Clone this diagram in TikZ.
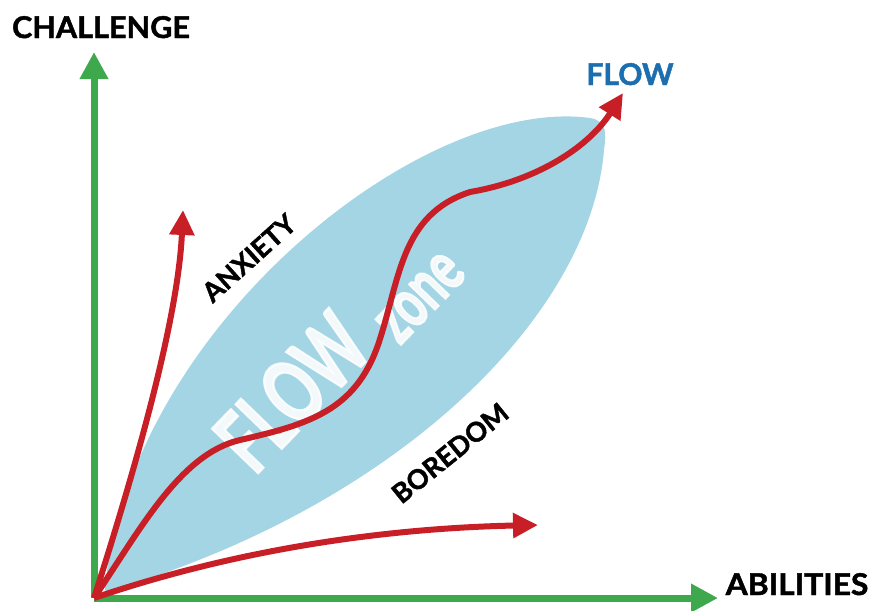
\documentclass[tikz,border=0pt]{standalone}
\usepackage{fontspec}
\setmainfont{Lato}
\newfontfamily\heavyfont{Lato}[BoldFeatures={FakeBold=1.5}]
\newfontfamily\markfont{Lato}[BoldFeatures={FakeBold=3}]
\usetikzlibrary{arrows.meta}
\definecolor{axisgreen}{RGB}{62,168,76}
\definecolor{flowred}{RGB}{200,30,38}
\definecolor{zoneblue}{RGB}{163,213,228}
\definecolor{titleblue}{RGB}{28,110,175}
\tikzset{
  axisline/.style={draw=axisgreen, line width=7pt, -{Triangle[length=27pt,width=27pt]}},
  redline/.style={draw=flowred, line width=6pt, -{Triangle[length=25pt,width=24pt]}},
  axislabel/.style={font=\heavyfont\bfseries\fontsize{30}{30}\selectfont, text=black, inner sep=0pt},
  curvelabel/.style={font=\heavyfont\bfseries\fontsize{27}{27}\selectfont, text=black, inner sep=0pt},
  watermark/.style={text=white, opacity=0.88, inner sep=0pt}
}
\begin{document}
\begin{tikzpicture}[x=1pt,y=-1pt]
\useasboundingbox (0,0) rectangle (874,610);
% zone
\fill[zoneblue] (105,588) .. controls (130,330) and (420,95) .. (590,118)
  .. controls (608,121) and (606,135) .. (604,150)
  .. controls (590,320) and (390,510) .. (105,592) -- cycle;
% watermark
\node[watermark, rotate=46, font=\markfont\bfseries\fontsize{88}{88}\selectfont] (wflow) at (292,392) {\scalebox{0.68}[1]{FLOW}};
\node[watermark, rotate=46, font=\markfont\bfseries\fontsize{70}{70}\selectfont] (wzone) at (421,298) {\scalebox{0.66}[1]{zone}};
% coordinates
\coordinate (O) at (94,598);
\coordinate (ytip) at (94,52);
\coordinate (xtip) at (718,598);
\coordinate (atip) at (183,210);
\coordinate (btip) at (538,525);
\coordinate (ftip) at (623,93);
% axes
\draw[axisline] (O) -- (ytip);
\draw[axisline] (O) -- (xtip);
% curves
\draw[redline] (O) .. controls (135,470) and (178,320) .. (atip);
\draw[redline] (O) .. controls (250,545) and (400,528) .. (btip);
\draw[redline] (O) .. controls (140,530) and (180,454) .. (240,440)
  .. controls (310,424) and (355,410) .. (378,345)
  .. controls (400,280) and (400,215) .. (470,192)
  .. controls (540,180) and (590,145) .. (ftip);
% labels
\node[axislabel, anchor=base] (challenge) at (101,38) {\scalebox{1.02}[1]{CHALLENGE}};
\node[axislabel, anchor=base] (abilities) at (797,595) {\scalebox{1.06}[1]{ABILITIES}};
\node[axislabel, anchor=base, text=titleblue] (flow) at (630,85) {FLOW};
\node[curvelabel, rotate=42] (anxiety) at (249,258) {ANXIETY};
\node[curvelabel, rotate=39] (boredom) at (450,453) {BOREDOM};
\end{tikzpicture}
\end{document}
